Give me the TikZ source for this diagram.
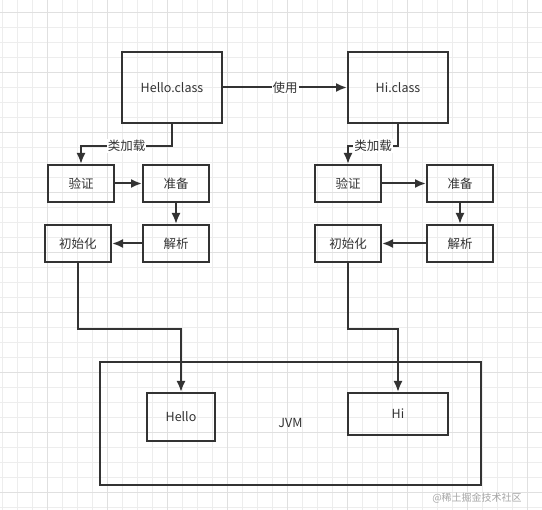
\documentclass[tikz,border=0pt]{standalone}
\usepackage{fontspec}
\setmainfont{Noto Sans CJK SC}
\usetikzlibrary{arrows.meta}
\definecolor{ink}{HTML}{333333}

\begin{document}
\begin{tikzpicture}[x=1pt,y=-1pt,>={Latex[length=11pt,width=9pt]},
	box/.style={draw=ink,line width=2pt,inner sep=0pt,text=ink,font=\fontsize{12.5}{14}\selectfont},
	link/.style={draw=ink,line width=2pt,->},
	tag/.style={fill=white,inner sep=1pt,text=ink,font=\fontsize{12.5}{14}\selectfont}]

% Background grid
\useasboundingbox (0,0) rectangle (542,510);
\fill[white] (0,0) rectangle (542,510);
\foreach \x in {2,17,...,542}
	\draw[black!7,line width=0.8pt] (\x,0) -- (\x,510);
\foreach \y in {12,27,...,510}
	\draw[black!7,line width=0.8pt] (0,\y) -- (542,\y);
\foreach \x in {47,107,...,542}
	\draw[black!12,line width=0.8pt] (\x,0) -- (\x,510);
\foreach \y in {12,72,...,510}
	\draw[black!12,line width=0.8pt] (0,\y) -- (542,\y);

% Class files
\node[box,minimum width=100pt,minimum height=71pt] (hello) at (172,87.5) {Hello.class};
\node[box,minimum width=100pt,minimum height=71pt] (hi) at (398,87.5) {Hi.class};

% Loading steps, left
\node[box,minimum width=66pt,minimum height=37pt] (yz1) at (81,183.5) {验证};
\node[box,minimum width=66pt,minimum height=37pt] (zb1) at (176,183.5) {准备};
\node[box,minimum width=66pt,minimum height=37pt] (jx1) at (176,243.5) {解析};
\node[box,minimum width=66pt,minimum height=37pt] (csh1) at (78,243.5) {初始化};

% Loading steps, right
\node[box,minimum width=66pt,minimum height=37pt] (yz2) at (348,183.5) {验证};
\node[box,minimum width=66pt,minimum height=37pt] (zb2) at (460,183.5) {准备};
\node[box,minimum width=66pt,minimum height=37pt] (jx2) at (460,243.5) {解析};
\node[box,minimum width=66pt,minimum height=37pt] (csh2) at (348,243.5) {初始化};

% JVM
\node[box,minimum width=381pt,minimum height=123pt] (jvm) at (290.5,423.5) {JVM};
\node[box,minimum width=68pt,minimum height=48pt] (hellobox) at (181,417) {Hello};
\node[box,minimum width=100pt,minimum height=42pt] (hibox) at (398,414) {Hi};

% Connectors
\draw[link] (hello) -- node[tag] {使用} (hi);
\draw[link] (hello.south) -- ++(0,22) -| node[tag,pos=0.25] {类加载} (yz1.north);
\draw[link] (hi.south) -- ++(0,22) -| node[tag,pos=0.25] {类加载} (yz2.north);

\draw[link] (yz1) -- (zb1);
\draw[link] (zb1) -- (jx1);
\draw[link] (jx1) -- (csh1);
\draw[link] (yz2) -- (zb2);
\draw[link] (zb2) -- (jx2);
\draw[link] (jx2) -- (csh2);

\draw[link] (csh1.south) -- ++(0,66) -| (hellobox.north);
\draw[link] (csh2.south) -- ++(0,66) -| (hibox.north);

% Watermark
\node[text=black!35,font=\fontsize{10}{12}\selectfont] (mark) at (477,498) {@稀土掘金技术社区};
\end{tikzpicture}
\end{document}
